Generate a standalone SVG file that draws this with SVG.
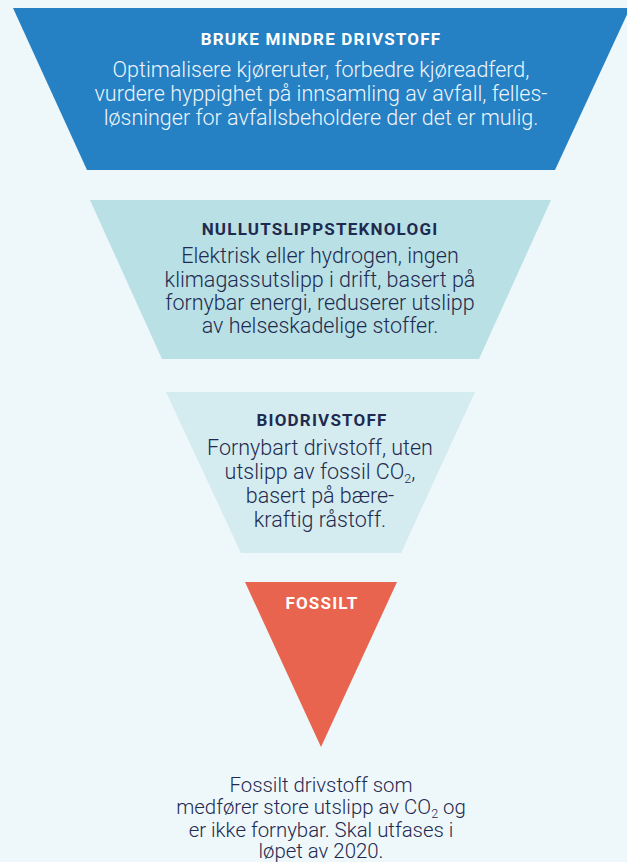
<svg xmlns="http://www.w3.org/2000/svg" width="627" height="862" viewBox="0 0 627 862">
<style>
.t{font-family:Roboto,"Liberation Sans",sans-serif;font-weight:700;font-size:17px;text-anchor:middle;letter-spacing:1.2px}
.b{font-family:Roboto,"Liberation Sans",sans-serif;font-weight:300;font-size:21.5px;text-anchor:middle}
.s{font-size:20.4px}
.w{fill:#ffffff}
.wb{fill:#eef5fb}
.d{fill:#1f2a50}
.sub{font-size:12.5px}
</style>
<rect x="0" y="0" width="627" height="862" fill="#eef7f9"/>
<g id="bruke-mindre-drivstoff">
<polygon points="13,8 630,8 555,170 87,170" fill="#2580c4"/>
<text class="t w" x="321" y="45">BRUKE MINDRE DRIVSTOFF</text>
<text class="b wb" x="321" y="77">Optimalisere kjøreruter, forbedre kjøreadferd,</text>
<text class="b wb" x="321" y="101">vurdere hyppighet på innsamling av avfall, felles-</text>
<text class="b wb" x="321" y="125">løsninger for avfallsbeholdere der det er mulig.</text>
</g>
<g id="nullutslippsteknologi">
<polygon points="90,200 551,200 479,359 162,359" fill="#b9e0e5"/>
<text class="t d" x="320" y="235">NULLUTSLIPPSTEKNOLOGI</text>
<text class="b d" x="320" y="263">Elektrisk eller hydrogen, ingen</text>
<text class="b d" x="320" y="287">klimagassutslipp i drift, basert på</text>
<text class="b d" x="320" y="310">fornybar energi, reduserer utslipp</text>
<text class="b d" x="320" y="333">av helseskadelige stoffer.</text>
</g>
<g id="biodrivstoff">
<polygon points="166,392 475,392 401,553 241,553" fill="#d4ecef"/>
<text class="t d" x="322" y="426">BIODRIVSTOFF</text>
<text class="b d" x="320" y="455">Fornybart drivstoff, uten</text>
<text class="b d" x="320" y="479">utslipp av fossil CO<tspan class="sub" dy="4">2</tspan><tspan dy="-4">,</tspan></text>
<text class="b d" x="320" y="503">basert på bære-</text>
<text class="b d" x="320" y="527">kraftig råstoff.</text>
</g>
<g id="fossilt">
<polygon points="245,582 397,582 321,747" fill="#e8644e"/>
<text class="t w" x="322" y="609">FOSSILT</text>
<text class="b s d" x="321" y="792">Fossilt drivstoff som</text>
<text class="b s d" x="321" y="814">medfører store utslipp av CO<tspan class="sub" dy="4">2</tspan><tspan dy="-4"> og</tspan></text>
<text class="b s d" x="321" y="837">er ikke fornybar. Skal utfases i</text>
<text class="b s d" x="321" y="858">løpet av 2020.</text>
</g>
<g id="connectors"/>
</svg>
